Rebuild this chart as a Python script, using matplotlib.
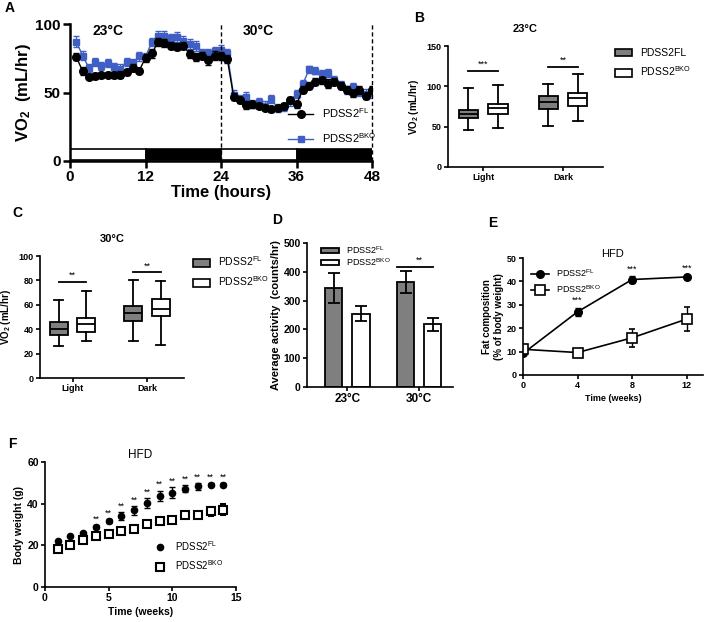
import matplotlib
matplotlib.use("Agg")
import matplotlib.pyplot as plt
from matplotlib.patches import Patch
from matplotlib.lines import Line2D

plt.rcParams["font.family"] = ["Liberation Sans", "DejaVu Sans"]
plt.rcParams["mathtext.default"] = "regular"

W, H = 705, 622

# ---- panel A: hourly VO2 ----
hours = list(range(1, 49))
vo2_fl = [76, 65.6, 61.5, 62, 62.5, 63, 62.5, 63, 65, 68, 66, 75.4,
          78.5, 87, 86.3, 84, 83.5, 84, 78.3, 76, 76.8, 73.4, 77, 76.8,
          74.5, 47, 44.5, 41, 41.5, 40.5, 39, 38, 39, 40, 44.5, 41.5,
          52, 55, 58, 59, 56.5, 58, 55, 52, 49.5, 52, 47.5, 52]
vo2_fl_err = [2.5, 3, 2, 2, 2, 2, 2, 2.5, 2.5, 2.5, 2, 3,
              3, 3, 3, 2.5, 2.5, 2.5, 3, 3, 2.5, 3.5, 3, 3,
              3, 2.5, 2.5, 3, 2.5, 2, 2, 2.5, 2, 2, 2.5, 2.5,
              2.5, 2.5, 2.5, 2.5, 3, 2.5, 2.5, 2.5, 2.5, 3, 2.5, 3]
vo2_bko = [87, 77, 68, 72, 69.5, 71.7, 68.5, 67.5, 72.4, 71.2, 76.3, 76,
           87, 91.5, 91.5, 89.5, 90.5, 87.5, 85.6, 84, 78.5, 78.5, 80, 81,
           78.5, 48.5, 45.5, 47, 41.5, 43, 40.5, 45.5, 38.5, 39.5, 43.5, 49,
           56, 67, 66, 63.5, 64, 59, 55.5, 52, 54, 50.5, 49, 49.5]
vo2_bko_err = [4, 3.5, 3, 3, 3, 3, 3, 3, 3, 3, 3, 3,
               3, 3.5, 3.5, 3.5, 4, 3.5, 3.5, 3.5, 3, 3, 3.5, 3.5,
               3.5, 3, 3, 3.5, 3, 3, 3, 3, 3, 3, 3, 3,
               3, 2.5, 2.5, 3, 3, 3, 3, 3, 3, 3, 3.5, 3.5]
phase_start = [0, 12, 24, 36]
phase_color = ["white", "black", "white", "black"]
temp_labels = ["23°C", "30°C"]
temp_label_x = [3.5, 27.5]

# ---- panel B / C: VO2 box plots ----
box_groups = ["Light", "Dark"]
# (low whisker, q1, median, q3, high whisker)
b_fl = [(45.6, 61, 66, 71, 98), (50.5, 72.5, 81, 88, 103)]
b_bko = [(48.5, 66, 73.7, 78.5, 102), (57, 75.4, 85.5, 92, 115)]
b_sig = ["***", "**"]
b_sig_y = [119.5, 124]
c_fl = [(26.6, 35.2, 40, 45.7, 64), (30, 46.8, 53, 59, 80.5)]
c_bko = [(30, 37.6, 44, 49.5, 71.5), (27.4, 50.8, 56.5, 64.5, 79.5)]
c_sig = ["**", "**"]
c_sig_y = [79, 86.7]

# ---- panel D: activity ----
d_groups = ["23°C", "30°C"]
act_fl = [344, 366]
act_fl_err = [53, 38]
act_bko = [255, 218]
act_bko_err = [25, 23]

# ---- panel E: fat composition ----
weeks_e = [0, 4, 8, 12]
fat_fl = [9.2, 27.0, 40.8, 41.9]
fat_fl_err = [0.8, 1.8, 1.3, 0.6]
fat_bko = [11.0, 9.6, 15.9, 23.9]
fat_bko_err = [1.0, 0.6, 3.8, 5.0]
stars_e = ["", "***", "***", "***"]

# ---- panel F: body weight ----
weeks_f = list(range(1, 15))
bw_fl = [22.0, 24.3, 25.9, 28.8, 31.5, 34.0, 36.8, 40.3, 43.7, 45.3, 47.2, 48.3, 49.1, 49.1]
bw_fl_err = [0.5, 0.5, 0.6, 0.8, 1.0, 1.8, 2.0, 2.2, 2.5, 2.5, 1.7, 1.5, 0.6, 0.6]
bw_bko = [18.1, 20.3, 22.7, 24.3, 25.6, 26.7, 27.8, 30.1, 31.7, 32.3, 34.4, 34.7, 36.3, 37.1]
bw_bko_err = [0.8, 0.7, 0.8, 0.7, 0.7, 0.8, 0.8, 0.8, 0.9, 1.0, 1.2, 1.5, 2.0, 2.7]
stars_f = ["", "", "", "**", "**", "**", "**", "**", "**", "**", "**", "**", "**", "**"]

FL = "PDSS2$^{FL}$"
BKO = "PDSS2$^{BKO}$"
GREY = "#7f7f7f"
BLUE = "#3f5fc4"
STAR = 6.5


def px_axes(fig, left, top, right, bottom):
    return fig.add_axes([left / W, 1 - bottom / H, (right - left) / W, (bottom - top) / H])


def style(ax, lw=1.2, size=6.5, tl=3):
    for s in ("top", "right"):
        ax.spines[s].set_visible(False)
    for s in ("left", "bottom"):
        ax.spines[s].set_linewidth(lw)
    ax.tick_params(width=lw, length=tl, labelsize=size, pad=1.5)
    for lab in ax.get_xticklabels() + ax.get_yticklabels():
        lab.set_fontweight("bold")


def box_panel(ax, fl, bko, sig, sig_y, title, ylim, yticks, leg_labels, leg_anchor):
    off, bw = 0.185, 0.24
    for i, (fs, bs) in enumerate(zip(fl, bko)):
        stats = []
        for vals in (fs, bs):
            lo, q1, med, q3, hi = vals
            stats.append(dict(whislo=lo, q1=q1, med=med, q3=q3, whishi=hi, fliers=[]))
        art = ax.bxp(stats, positions=[i - off, i + off], widths=bw, capwidths=bw * 0.5,
                     patch_artist=True, showfliers=False,
                     boxprops=dict(linewidth=1.3, edgecolor="black"),
                     whiskerprops=dict(linewidth=1.3), capprops=dict(linewidth=1.3),
                     medianprops=dict(color="black", linewidth=1.3))
        art["boxes"][0].set_facecolor(GREY)
        art["boxes"][1].set_facecolor("white")
        ax.plot([i - off, i + off], [sig_y[i], sig_y[i]], color="black", lw=1.3)
        ax.text(i, sig_y[i] + ylim[1] * 0.015, sig[i], ha="center", va="bottom", fontsize=STAR)
    ax.set_xticks(range(len(box_groups)))
    ax.set_xticklabels(box_groups)
    ax.set_xlim(-0.44, 1.5)
    ax.set_ylim(*ylim)
    ax.set_yticks(yticks)
    ax.set_ylabel("VO$_2$ (mL/hr)", fontsize=7, fontweight="bold")
    ax.set_title(title, fontsize=8, fontweight="bold", pad=10)
    style(ax, size=6.5)
    handles = [Patch(facecolor=GREY, edgecolor="black", lw=1.2),
               Patch(facecolor="white", edgecolor="black", lw=1.2)]
    ax.legend(handles, leg_labels, loc="upper left", bbox_to_anchor=leg_anchor, frameon=False,
              fontsize=7.5, handlelength=1.6, handleheight=0.8, labelspacing=0.6)


fig = plt.figure(figsize=(W / 100, H / 100), dpi=100)

# panel A
ax = px_axes(fig, 70, 24, 372, 161)
ax.bar(phase_start, [8] * len(phase_start), width=12, bottom=1, align="edge",
       color=phase_color, edgecolor="black", linewidth=1.2, zorder=1)
ax.errorbar(hours, vo2_bko, yerr=vo2_bko_err, color=BLUE, marker="s", ms=4.5, lw=1,
            elinewidth=0.8, capsize=2, zorder=3)
ax.errorbar(hours, vo2_fl, yerr=vo2_fl_err, color="black", marker="o", ms=5.5, lw=1,
            elinewidth=0.8, capsize=2, zorder=4)
for xv in (24, 48):
    ax.axvline(xv, color="black", ls="--", lw=1, dashes=(3, 2), clip_on=False, zorder=5)
for lab, xv in zip(temp_labels, temp_label_x):
    ax.text(xv, 95, lab, fontsize=10, fontweight="bold", va="center")
ax.set_xlim(0, 48)
ax.set_ylim(0, 100)
ax.set_xticks([0, 12, 24, 36, 48])
ax.set_yticks([0, 50, 100])
ax.set_xlabel("Time (hours)", fontsize=12, fontweight="bold", labelpad=1)
ax.set_ylabel("VO$_2$  (mL/hr)", fontsize=12, fontweight="bold", labelpad=2)
style(ax, lw=1.8, size=11, tl=5)
a_handles = [Line2D([], [], color="black", marker="o", ms=5.5, lw=1),
             Line2D([], [], color=BLUE, marker="s", ms=4.5, lw=1)]
ax.legend(a_handles, [FL, BKO], loc="center left", bbox_to_anchor=(0.69, 0.26), frameon=False,
          fontsize=8, handlelength=2.2, labelspacing=1.0)

# panel B
ax = px_axes(fig, 448, 46, 603, 167)
box_panel(ax, b_fl, b_bko, b_sig, b_sig_y, "23°C", (0, 150), [0, 50, 100, 150],
          ["PDSS2FL", BKO], (1.02, 1.06))

# panel C
ax = px_axes(fig, 40, 256, 184, 378)
box_panel(ax, c_fl, c_bko, c_sig, c_sig_y, "30°C", (0, 100), [0, 20, 40, 60, 80, 100],
          [FL, BKO], (1.0, 1.09))

# panel D
ax = px_axes(fig, 307, 243, 453, 387)
xd = range(len(d_groups))
off = 0.19
ax.bar([x - off for x in xd], act_fl, width=0.24, color=GREY, edgecolor="black", lw=1.3, label=FL)
ax.bar([x + off for x in xd], act_bko, width=0.24, color="white", edgecolor="black", lw=1.3, label=BKO)
ax.errorbar([x - off for x in xd], act_fl, yerr=act_fl_err, fmt="none", ecolor="black", elinewidth=1.3, capsize=4, capthick=1.3)
ax.errorbar([x + off for x in xd], act_bko, yerr=act_bko_err, fmt="none", ecolor="black", elinewidth=1.3, capsize=4, capthick=1.3)
ax.plot([1 - off - 0.12, 1 + off], [417, 417], color="black", lw=1.3)
ax.text(1, 424, "**", ha="center", va="bottom", fontsize=STAR)
ax.set_xticks(list(xd))
ax.set_xticklabels(d_groups)
ax.set_xlim(-0.56, 1.47)
ax.set_ylim(0, 500)
ax.set_yticks(range(0, 501, 100))
ax.set_ylabel("Average activity  (counts/hr)", fontsize=8, fontweight="bold", labelpad=2)
style(ax, size=7.5)
ax.tick_params(axis="x", labelsize=8.5)
ax.legend(loc="upper left", bbox_to_anchor=(0.04, 1.05), frameon=False, fontsize=6.5,
          handlelength=2.0, handleheight=0.6, labelspacing=0.05)

# panel E
ax = px_axes(fig, 523, 258, 703, 375)
ax.errorbar(weeks_e, fat_fl, yerr=fat_fl_err, color="black", marker="o", ms=5.5, lw=1.2,
            elinewidth=1, capsize=2.5)
ax.errorbar(weeks_e, fat_bko, yerr=fat_bko_err, color="black", marker="s", ms=6.5, mfc="white",
            mew=1.2, lw=1.2, elinewidth=1, capsize=2.5)
for xv, yv, ev, st in zip(weeks_e, fat_fl, fat_fl_err, stars_e):
    ax.text(xv, yv + ev + 1.2, st, ha="center", va="bottom", fontsize=STAR)
ax.set_xlim(0, 13.2)
ax.set_ylim(0, 50)
ax.set_xticks(weeks_e)
ax.set_yticks(range(0, 51, 10))
ax.set_title("HFD", fontsize=8, y=0.94)
ax.set_xlabel("Time (weeks)", fontsize=6.5, fontweight="bold", labelpad=3)
ax.set_ylabel("Fat composition\n(% of body weight)", fontsize=7, fontweight="bold", labelpad=2)
style(ax, size=6.5)
e_handles = [Line2D([], [], color="black", marker="o", ms=5.5, lw=1.2),
             Line2D([], [], color="black", marker="s", ms=6.5, mfc="white", mew=1.2, lw=1.2)]
ax.legend(e_handles, [FL, BKO], loc="upper left", bbox_to_anchor=(0.0, 0.99), frameon=False,
          fontsize=6.5, handlelength=2.0, labelspacing=0.5)

# panel F
ax = px_axes(fig, 45, 462, 236, 587)
ax.errorbar(weeks_f, bw_fl, yerr=bw_fl_err, color="black", marker="o", ms=4.5, ls="none",
            elinewidth=1, capsize=2.5)
ax.errorbar(weeks_f, bw_bko, yerr=bw_bko_err, color="black", marker="s", ms=6, mfc="white",
            mew=1.5, ls="none", elinewidth=1, capsize=2.5)
for xv, yv, ev, st in zip(weeks_f, bw_fl, bw_fl_err, stars_f):
    ax.text(xv, yv + ev + 0.8, st, ha="center", va="bottom", fontsize=STAR)
ax.set_xlim(0, 15)
ax.set_ylim(0, 60)
ax.set_xticks([0, 5, 10, 15])
ax.set_yticks([0, 20, 40, 60])
ax.set_title("HFD", fontsize=8.5, pad=3)
ax.set_xlabel("Time (weeks)", fontsize=7.5, fontweight="bold", labelpad=3)
ax.set_ylabel("Body weight (g)", fontsize=7.5, fontweight="bold", labelpad=2)
style(ax, size=7.5)
f_handles = [Line2D([], [], color="black", marker="o", ms=4.5, ls="none"),
             Line2D([], [], color="black", marker="s", ms=6, mfc="white", mew=1.5, ls="none")]
ax.legend(f_handles, [FL, BKO], loc="center left", bbox_to_anchor=(0.52, 0.25), frameon=False,
          fontsize=7, handlelength=1.5, labelspacing=0.6)

# panel letters
for letter, (xp, yp) in zip("ABCDEF", [(5, 8), (414, 18), (12, 213), (272, 220), (488, 223), (8, 444)]):
    fig.text(xp / W, 1 - yp / H, letter, fontsize=10, fontweight="bold", va="center")

fig.savefig("out.png", dpi=100)
